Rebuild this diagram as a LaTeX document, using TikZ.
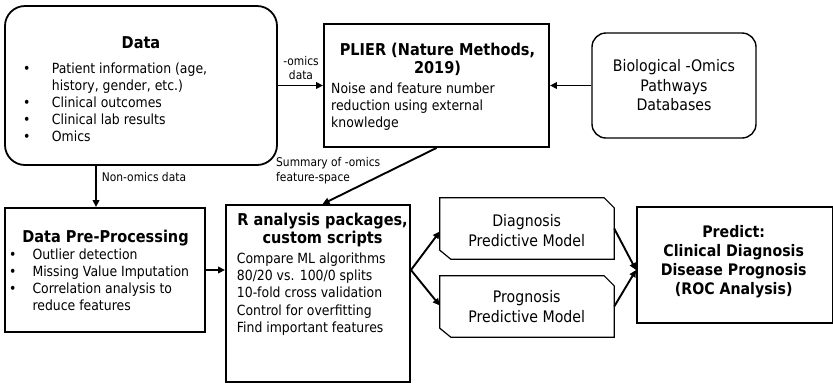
\documentclass[tikz,border=0pt]{standalone}
\usepackage{fontspec}
\setmainfont{DejaVu Sans}[FakeStretch=0.89]
\usetikzlibrary{arrows.meta}

\begin{document}
\begin{tikzpicture}[x=1pt,y=-1pt,
  box/.style={draw,line width=1.9pt,inner sep=0pt},
  roundbox/.style={draw,line width=1.8pt,rounded corners=20pt,inner sep=0pt},
  model/.style={inner sep=0pt,minimum width=174pt,minimum height=61pt},
  modeledge/.style={line width=1.2pt,line join=miter},
  title/.style={font=\bfseries\fontsize{16.3}{18}\selectfont,inner sep=0pt,anchor=base},
  body/.style={font=\fontsize{14}{17.2}\selectfont,inner sep=0pt,anchor=base west},
  bigtext/.style={font=\fontsize{15.9}{19.6}\selectfont,inner sep=0pt,anchor=base},
  boldtext/.style={font=\bfseries\fontsize{15.9}{19.3}\selectfont,inner sep=0pt,anchor=base},
  lbl/.style={font=\fontsize{12}{14.5}\selectfont,inner sep=0pt},
  arr/.style={line width=1.9pt,-{Triangle[length=7pt,width=6.5pt]}}]

  \useasboundingbox (0,0) rectangle (833,384);

  % top row: sources and PLIER
  \node[roundbox,minimum width=272pt,minimum height=159pt] (data) at (141,85.5) {};
  \node[title] (datahead) at (141,48) {Data};
  \node[body] (datalist) at (23,73) {\begin{tabular}[t]{@{}p{28.7pt}@{}l@{}}
    \textbullet & Patient information (age,\\
                & history, gender, etc.)\\
    \textbullet & Clinical outcomes\\
    \textbullet & Clinical lab results\\
    \textbullet & Omics
  \end{tabular}};

  \node[box,minimum width=225pt,minimum height=123pt] (plier) at (436.5,85.5) {};
  \node[title] (plierhead) at (437.5,55) {\begin{tabular}[t]{@{}c@{}}PLIER (Nature Methods,\\2019)\end{tabular}};
  \node[body] (plierbody) at (331,93) {\begin{tabular}[t]{@{}l@{}}Noise and feature number\\reduction using external\\knowledge\end{tabular}};

  \node[roundbox,line width=1.4pt,rounded corners=14pt,minimum width=164pt,minimum height=105pt] (bio) at (674,85.5) {};
  \node[bigtext] (biotext) at (674,71.7) {\begin{tabular}[t]{@{}c@{}}Biological -Omics\\Pathways\\Databases\end{tabular}};

  % bottom row: processing and models
  \node[box,minimum width=200pt,minimum height=124pt] (pre) at (105,270) {};
  \node[title] (prehead) at (105.5,242.5) {Data Pre-Processing};
  \node[body] (prelist) at (9,259) {\begin{tabular}[t]{@{}p{23.3pt}@{}l@{}}
    \textbullet & Outlier detection\\
    \textbullet & Missing Value Imputation\\
    \textbullet & Correlation analysis to\\
                & reduce features
  \end{tabular}};

  \node[box,minimum width=184pt,minimum height=177pt] (rbox) at (318,293.5) {};
  \node[title] (rhead) at (322.5,225) {\begin{tabular}[t]{@{}c@{}}R analysis packages,\\custom scripts\end{tabular}};
  \node[body] (rbody) at (236.7,263.5) {\begin{tabular}[t]{@{}l@{}}Compare ML algorithms\\80/20 vs. 100/0 splits\\10-fold cross validation\\Control for overfitting\\Find important features\end{tabular}};

  \node[model] (diag) at (527,228.5) {};
  \node[bigtext] (diagtext) at (526.7,226.7) {\begin{tabular}[t]{@{}c@{}}Diagnosis\\Predictive Model\end{tabular}};
  \node[model] (prog) at (527,306.5) {};
  \node[bigtext] (progtext) at (526.7,302.7) {\begin{tabular}[t]{@{}c@{}}Prognosis\\Predictive Model\end{tabular}};
  \foreach \m in {diag,prog}
    \draw[modeledge] (\m.north west) -- ([xshift=-10pt]\m.north east) -- ([yshift=-10pt]\m.north east)
      -- (\m.south east) -- ([xshift=11pt]\m.south west) -- ([yshift=9pt]\m.south west) -- cycle;

  \node[box,minimum width=196pt,minimum height=116pt] (predict) at (735,265) {};
  \node[boldtext] (predicttext) at (733.7,237) {\begin{tabular}[t]{@{}c@{}}Predict:\\Clinical Diagnosis\\Disease Prognosis\\(ROC Analysis)\end{tabular}};

  % connectors
  \draw[arr] (data.east) -- (plier.west);
  \draw[arr] (bio.west) -- (plier.east);
  \draw[arr] (data.south -| 96,0) -- (pre.north -| 96,0);
  \draw[arr] (plier.south) -- (rhead.base |- rbox.north);
  \draw[arr] (pre.east) -- (pre.east -| rbox.west);
  \coordinate (fork) at (rbox.east |- pre.east);
  \draw[arr] (fork) -- ([yshift=-3pt]diag.west);
  \draw[arr] (fork) -- ([yshift=1pt]prog.west);
  \draw[arr] (diag.east) -- (predict.west |- fork);
  \draw[arr] (prog.east) -- (predict.west |- fork);

  % labels
  \node[lbl,anchor=base] (omicslbl) at (301,65) {\begin{tabular}[t]{@{}c@{}}-omics\\data\end{tabular}};
  \node[lbl,anchor=base west] (nonomicslbl) at (101.7,181.7) {Non-omics data};
  \node[lbl,anchor=base west] (summarylbl) at (276,166.7) {\begin{tabular}[t]{@{}l@{}}Summary of -omics\\feature-space\end{tabular}};
\end{tikzpicture}
\end{document}
